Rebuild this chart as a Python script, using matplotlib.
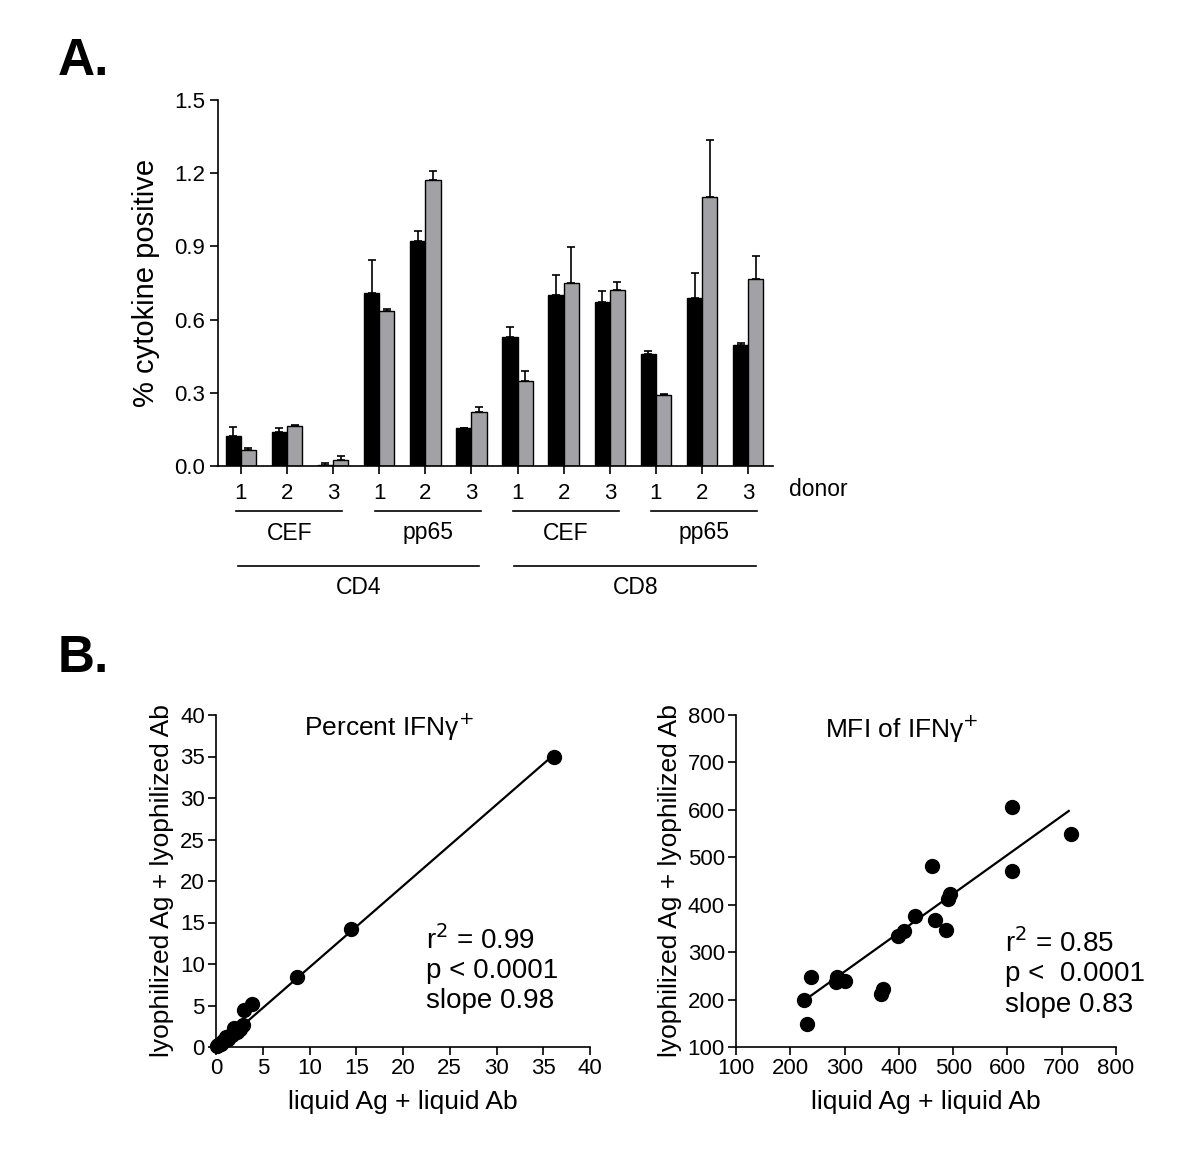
import numpy as np
import matplotlib
matplotlib.use("Agg")
import matplotlib.pyplot as plt
from matplotlib.transforms import blended_transform_factory

plt.rcParams['font.family'] = ['Liberation Sans', 'DejaVu Sans']

# ---------------- Panel A data ----------------
donor_labels = ["1", "2", "3"] * 4
black_vals = [0.121, 0.138, 0.003, 0.710, 0.924, 0.154, 0.529, 0.699, 0.672, 0.461, 0.688, 0.496]
black_err = [0.038, 0.016, 0.009, 0.133, 0.038, 0.000, 0.039, 0.083, 0.047, 0.012, 0.105, 0.010]
gray_vals = [0.065, 0.165, 0.024, 0.637, 1.174, 0.221, 0.348, 0.749, 0.720, 0.289, 1.101, 0.765]
gray_err = [0.009, 0.005, 0.016, 0.005, 0.033, 0.022, 0.041, 0.149, 0.033, 0.008, 0.237, 0.096]
antigen_groups = ["CEF", "pp65", "CEF", "pp65"]
cell_groups = ["CD4", "CD8"]
yticks_a = [0.0, 0.3, 0.6, 0.9, 1.2, 1.5]

# ---------------- Panel B data ----------------
pct_x = [36.1, 14.4, 8.7, 3.9, 3.0, 2.9, 2.6, 1.9, 2.2, 1.7, 1.6, 1.3, 1.1, 0.9, 0.8, 0.5, 0.4, 0.25, 0.1]
pct_y = [35.0, 14.2, 8.4, 5.2, 4.4, 2.6, 2.2, 2.3, 1.8, 1.4, 1.4, 1.0, 1.2, 0.7, 0.7, 0.4, 0.4, 0.2, 0.1]
pct_fit = (0.98, -0.2)          # slope, intercept
pct_fit_range = (0.0, 36.1)

mfi_x = [226, 231, 239, 284, 286, 300, 368, 370, 399, 410, 429, 461, 467, 487, 490, 494, 609, 609, 717]
mfi_y = [200, 149, 248, 237, 247, 239, 212, 222, 335, 345, 376, 482, 367, 346, 412, 422, 605, 472, 550]
mfi_fit = (0.82, 13.0)
mfi_fit_range = (226, 713)

W, H = 1200, 1166
fig = plt.figure(figsize=(W / 100, H / 100), dpi=100)


def rect(l, r, t, b):
    return [l / W, 1 - b / H, (r - l) / W, (b - t) / H]


def fx(x):
    return x / W


def fy(y):
    return 1 - y / H


TICK_FS = 16
GROUP_FS = 16.5
LABEL_FS = 19

# ---------------- Panel A ----------------
axA = fig.add_axes(rect(217.7, 772.7, 100, 466))
x = np.arange(len(black_vals))
bw = 0.33
axA.bar(x - bw / 2, black_vals, width=bw, color="black", edgecolor="black", linewidth=1.0, zorder=2)
axA.bar(x + bw / 2, gray_vals, width=bw, color="#a2a2a6", edgecolor="black", linewidth=1.0, zorder=2)
axA.errorbar(x - bw / 2, black_vals, yerr=[np.zeros(len(x)), black_err], fmt="none",
             ecolor="black", elinewidth=1.2, capsize=3, capthick=1.2, zorder=1)
axA.errorbar(x + bw / 2, gray_vals, yerr=[np.zeros(len(x)), gray_err], fmt="none",
             ecolor="black", elinewidth=1.2, capsize=3, capthick=1.2, zorder=1)
axA.set_xlim(-0.5, 11.53)
axA.set_ylim(0, 1.5)
axA.set_yticks(yticks_a)
axA.set_yticklabels([f"{v:.1f}" for v in yticks_a])
axA.set_xticks(x)
axA.set_xticklabels(donor_labels)
for s in ["top", "right"]:
    axA.spines[s].set_visible(False)
for s in ["left", "bottom"]:
    axA.spines[s].set_linewidth(1.2)
axA.tick_params(direction="out", length=6, width=1.2, labelsize=TICK_FS, pad=3)
axA.tick_params(axis="x", pad=6)
axA.set_ylabel("% cytokine positive", fontsize=21, labelpad=10)

tr = blended_transform_factory(axA.transData, fig.transFigure)
fig.text(fx(789), fy(490), "donor", fontsize=GROUP_FS, ha="left", va="center")
for gi, name in enumerate(antigen_groups):
    x0 = gi * 3
    axA.plot([x0 - 0.1, x0 + 2.2], [fy(511), fy(511)], color="black", lw=1.2,
             transform=tr, clip_on=False)
    axA.text(x0 + 1.05, fy(533), name, transform=tr, ha="center", va="center", fontsize=GROUP_FS)
for ci, name in enumerate(cell_groups):
    x0 = ci * 6
    axA.plot([x0 - 0.07, x0 + 5.17], [fy(566), fy(566)], color="black", lw=1.2,
             transform=tr, clip_on=False)
    axA.text(x0 + 2.55, fy(588), name, transform=tr, ha="center", va="center", fontsize=GROUP_FS)

fig.text(fx(58), fy(75), "A.", fontsize=37, fontweight="bold", ha="left", va="baseline")
fig.text(fx(58), fy(672), "B.", fontsize=37, fontweight="bold", ha="left", va="baseline")


# ---------------- Panel B ----------------
def style_scatter_ax(ax):
    for s in ["top", "right"]:
        ax.spines[s].set_visible(False)
    for s in ["left", "bottom"]:
        ax.spines[s].set_linewidth(1.2)
    ax.tick_params(direction="out", length=6, width=1.2, labelsize=TICK_FS, pad=2)
    ax.set_xlabel("liquid Ag + liquid Ab", fontsize=LABEL_FS, labelpad=8)
    ax.set_ylabel("lyophilized Ag + lyophilized Ab", fontsize=LABEL_FS, labelpad=4)


axL = fig.add_axes(rect(216, 590, 715, 1047))
axL.scatter(pct_x, pct_y, s=100, color="black", zorder=3, clip_on=False)
xs = np.array(pct_fit_range)
axL.plot(xs, pct_fit[0] * xs + pct_fit[1], color="black", lw=1.6, zorder=2)
axL.set_xlim(0, 40)
axL.set_ylim(0, 40)
axL.set_xticks(np.arange(0, 41, 5))
axL.set_yticks(np.arange(0, 41, 5))
style_scatter_ax(axL)
axL.text(18.5, 38.5, "Percent IFN\u03b3$^{+}$", fontsize=LABEL_FS, ha="center", va="center")
axL.text(22.5, 12.9, "r$^{2}$ = 0.99", fontsize=20, ha="left", va="center")
axL.text(22.5, 9.1, "p < 0.0001", fontsize=20, ha="left", va="center")
axL.text(22.5, 5.5, "slope 0.98", fontsize=20, ha="left", va="center")

axR = fig.add_axes(rect(736, 1116, 715, 1047))
axR.scatter(mfi_x, mfi_y, s=100, color="black", zorder=3)
xs = np.array(mfi_fit_range)
axR.plot(xs, mfi_fit[0] * xs + mfi_fit[1], color="black", lw=1.6, zorder=2)
axR.set_xlim(100, 800)
axR.set_ylim(100, 800)
axR.set_xticks(np.arange(100, 801, 100))
axR.set_yticks(np.arange(100, 801, 100))
style_scatter_ax(axR)
axR.text(405, 770, "MFI of IFN\u03b3$^{+}$", fontsize=LABEL_FS, ha="center", va="center")
axR.text(595, 320, "r$^{2}$ = 0.85", fontsize=20, ha="left", va="center")
axR.text(595, 253, "p <  0.0001", fontsize=20, ha="left", va="center")
axR.text(595, 188, "slope 0.83", fontsize=20, ha="left", va="center")

fig.savefig("out.png", dpi=100, facecolor="white")
